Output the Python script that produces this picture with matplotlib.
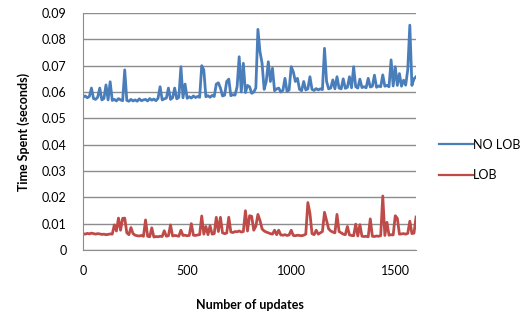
import numpy as np
import matplotlib.pyplot as plt
from matplotlib.ticker import FuncFormatter

plt.rcParams['font.family'] = ['Lato', 'DejaVu Sans']

# x positions: every 10 updates from 0 to 1600
updates = list(range(0, 1610, 10))

no_lob = [
    0.0580, 0.0585, 0.0578, 0.0583, 0.0615, 0.0575, 0.0572, 0.0580, 0.0615, 0.0570,
    0.0575, 0.0627, 0.0570, 0.0639, 0.0568, 0.0572, 0.0566, 0.0575, 0.0570, 0.0567,
    0.0684, 0.0568, 0.0565, 0.0572, 0.0566, 0.0570, 0.0565, 0.0574, 0.0567, 0.0570,
    0.0572, 0.0566, 0.0575, 0.0569, 0.0573, 0.0567, 0.0576, 0.0620, 0.0570, 0.0574,
    0.0577, 0.0615, 0.0572, 0.0578, 0.0615, 0.0574, 0.0580, 0.0696, 0.0578, 0.0630,
    0.0576, 0.0582, 0.0577, 0.0585, 0.0579, 0.0583, 0.0580, 0.0700, 0.0684, 0.0582,
    0.0586, 0.0580, 0.0587, 0.0583, 0.0630, 0.0635, 0.0615, 0.0585, 0.0588, 0.0640,
    0.0649, 0.0586, 0.0590, 0.0588, 0.0620, 0.0734, 0.0600, 0.0709, 0.0598, 0.0625,
    0.0620, 0.0595, 0.0600, 0.0615, 0.0838, 0.0753, 0.0709, 0.0610, 0.0640, 0.0715,
    0.0640, 0.0690, 0.0605, 0.0612, 0.0615, 0.0600, 0.0606, 0.0652, 0.0602, 0.0608,
    0.0696, 0.0677, 0.0640, 0.0652, 0.0610, 0.0605, 0.0640, 0.0608, 0.0612, 0.0658,
    0.0610, 0.0606, 0.0613, 0.0608, 0.0612, 0.0609, 0.0766, 0.0640, 0.0612, 0.0615,
    0.0646, 0.0612, 0.0658, 0.0615, 0.0612, 0.0650, 0.0614, 0.0618, 0.0658, 0.0616,
    0.0696, 0.0620, 0.0615, 0.0649, 0.0617, 0.0620, 0.0616, 0.0652, 0.0619, 0.0622,
    0.0664, 0.0618, 0.0623, 0.0620, 0.0665, 0.0622, 0.0625, 0.0620, 0.0722, 0.0623,
    0.0696, 0.0625, 0.0670, 0.0622, 0.0645, 0.0626, 0.0684, 0.0854, 0.0625, 0.0650,
    0.0658,
]

lob = [
    0.0062, 0.0060, 0.0063, 0.0061, 0.0064, 0.0062, 0.0060, 0.0062, 0.0061, 0.0059,
    0.0060, 0.0058, 0.0059, 0.0061, 0.0060, 0.0095, 0.0072, 0.0121, 0.0075, 0.0120,
    0.0121, 0.0065, 0.0058, 0.0085, 0.0062, 0.0056, 0.0054, 0.0053, 0.0055, 0.0052,
    0.0114, 0.0052, 0.0050, 0.0084, 0.0049, 0.0051, 0.0050, 0.0052, 0.0051, 0.0073,
    0.0052, 0.0054, 0.0095, 0.0053, 0.0055, 0.0054, 0.0052, 0.0075, 0.0055, 0.0056,
    0.0054, 0.0055, 0.0100, 0.0056, 0.0055, 0.0057, 0.0058, 0.0129, 0.0060, 0.0089,
    0.0058, 0.0092, 0.0060, 0.0062, 0.0124, 0.0070, 0.0124, 0.0065, 0.0062, 0.0064,
    0.0124, 0.0068, 0.0066, 0.0070, 0.0069, 0.0072, 0.0068, 0.0070, 0.0149, 0.0072,
    0.0130, 0.0128, 0.0075, 0.0090, 0.0135, 0.0112, 0.0080, 0.0072, 0.0068, 0.0065,
    0.0062, 0.0060, 0.0075, 0.0058, 0.0075, 0.0057, 0.0056, 0.0058, 0.0055, 0.0057,
    0.0075, 0.0055, 0.0054, 0.0056, 0.0055, 0.0054, 0.0056, 0.0060, 0.0180, 0.0139,
    0.0062, 0.0058, 0.0075, 0.0060, 0.0065, 0.0070, 0.0143, 0.0112, 0.0080, 0.0072,
    0.0068, 0.0065, 0.0135, 0.0070, 0.0065, 0.0060, 0.0058, 0.0089, 0.0057, 0.0055,
    0.0054, 0.0098, 0.0053, 0.0096, 0.0052, 0.0051, 0.0052, 0.0050, 0.0118, 0.0052,
    0.0051, 0.0053, 0.0052, 0.0054, 0.0205, 0.0055, 0.0105, 0.0056, 0.0058, 0.0057,
    0.0130, 0.0120, 0.0060, 0.0061, 0.0062, 0.0060, 0.0063, 0.0109, 0.0062, 0.0064,
    0.0125,
]

x_ticks = [0, 500, 1000, 1500]
y_ticks = [0, 0.01, 0.02, 0.03, 0.04, 0.05, 0.06, 0.07, 0.08, 0.09]

fig = plt.figure(figsize=(5.26, 3.18), dpi=100)
ax = fig.add_axes([0.158, 0.214, 0.633, 0.745])

ax.plot(updates, no_lob, color='#4A7EBB', lw=2.0, label='NO LOB')
ax.plot(updates, lob, color='#BE4B48', lw=2.0, label='LOB')

ax.set_xlim(0, 1600)
ax.set_ylim(0, 0.09)
ax.set_xticks(x_ticks)
ax.set_yticks(y_ticks)
ax.yaxis.set_major_formatter(FuncFormatter(lambda v, p: '0' if v == 0 else f'{v:.2f}'))

# excel-ish gridlines and axes
ax.grid(axis='y', color='#8c8c8c', lw=1)
ax.set_axisbelow(True)
for s in ['top', 'right']:
    ax.spines[s].set_visible(False)
for s in ['left', 'bottom']:
    ax.spines[s].set_color('#8c8c8c')
ax.tick_params(length=0, labelsize=9)
ax.tick_params(axis='x', pad=11)
ax.tick_params(axis='y', pad=12)

ax.set_xlabel('Number of updates', fontsize=9, fontweight='bold', labelpad=16)
ax.set_ylabel('Time Spent (seconds)', fontsize=9, fontweight='bold', labelpad=8)

leg = ax.legend(loc='center left', bbox_to_anchor=(1.035, 0.38), frameon=False,
                fontsize=9, handlelength=2.7, handletextpad=0.0, labelspacing=1.5)
for h in leg.get_lines():
    h.set_linewidth(1.6)

fig.savefig('out.png', dpi=100)
